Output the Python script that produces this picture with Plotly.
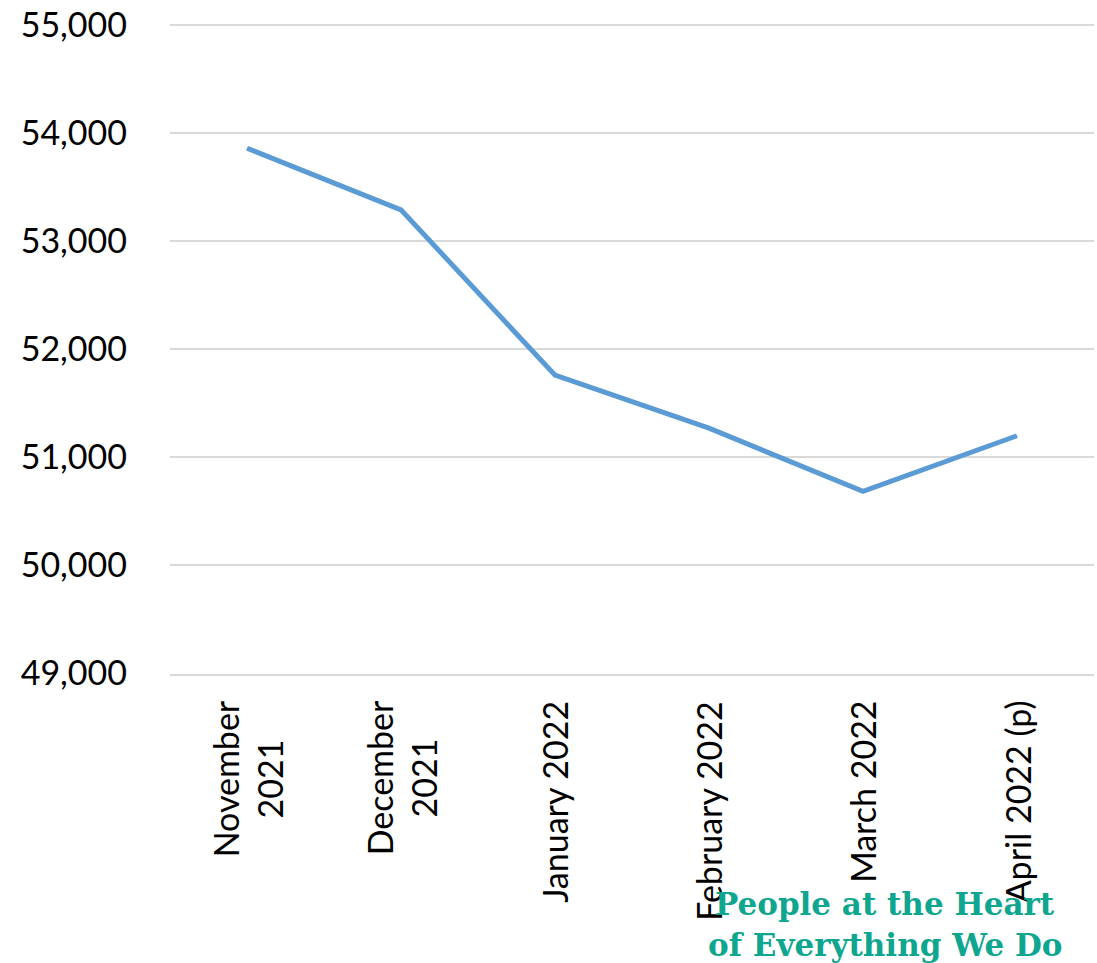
import plotly.graph_objects as go

# Monthly totals, November 2021 to April 2022 (p = provisional)
months = ["November<br>2021", "December<br>2021", "January 2022",
          "February 2022", "March 2022", "April 2022 (p)"]
values = [53860, 53290, 51760, 51270, 50685, 51200]

y_min, y_max, y_step = 49000, 55000, 1000

line_color = "#5B9BD5"
grid_color = "#D9D9D9"
brand_color = "#0FA68F"
font_family = "Lato, 'Open Sans', sans-serif"

fig = go.Figure()
fig.add_trace(go.Scatter(
    x=list(range(len(months))),
    y=values,
    mode="lines",
    line=dict(color=line_color, width=5),
    hoverinfo="skip",
))

# Rotated category labels, lines centred on each category
annotations = []
for i, label in enumerate(months):
    annotations.append(dict(
        x=i, xref="x", y=-0.038, yref="paper",
        text=label, showarrow=False, textangle=-90,
        xanchor="center", yanchor="top", align="center",
        font=dict(family=font_family, size=34, color="#000000"),
    ))

# Strapline in the lower right corner
for text, ypos in [("People at the Heart", -0.351), ("of Everything We Do", -0.415)]:
    annotations.append(dict(
        x=0.774, xref="paper", y=ypos, yref="paper",
        text=f"<b>{text}</b>", showarrow=False,
        xanchor="center", yanchor="middle",
        font=dict(family="'DejaVu Serif', serif", size=31, color=brand_color),
    ))

fig.update_layout(
    width=1097, height=963,
    margin=dict(l=170, r=3, t=17, b=288.6),
    paper_bgcolor="white", plot_bgcolor="white",
    showlegend=False,
    annotations=annotations,
    xaxis=dict(
        range=[-0.5, len(months) - 0.5],
        showticklabels=False, showgrid=False, zeroline=False,
        showline=True, linecolor=grid_color, linewidth=2,
        fixedrange=True,
    ),
    yaxis=dict(
        range=[y_min - 4, y_max + 46], dtick=y_step, tick0=y_min,
        tickformat=",", showgrid=True, gridcolor=grid_color, gridwidth=2,
        zeroline=False, showline=False, ticks="",
        ticklabelstandoff=42, ticklabeloverflow="allow",
        tickfont=dict(family=font_family, size=34, color="#000000"),
        fixedrange=True,
    ),
)

fig.write_html("out.html")
